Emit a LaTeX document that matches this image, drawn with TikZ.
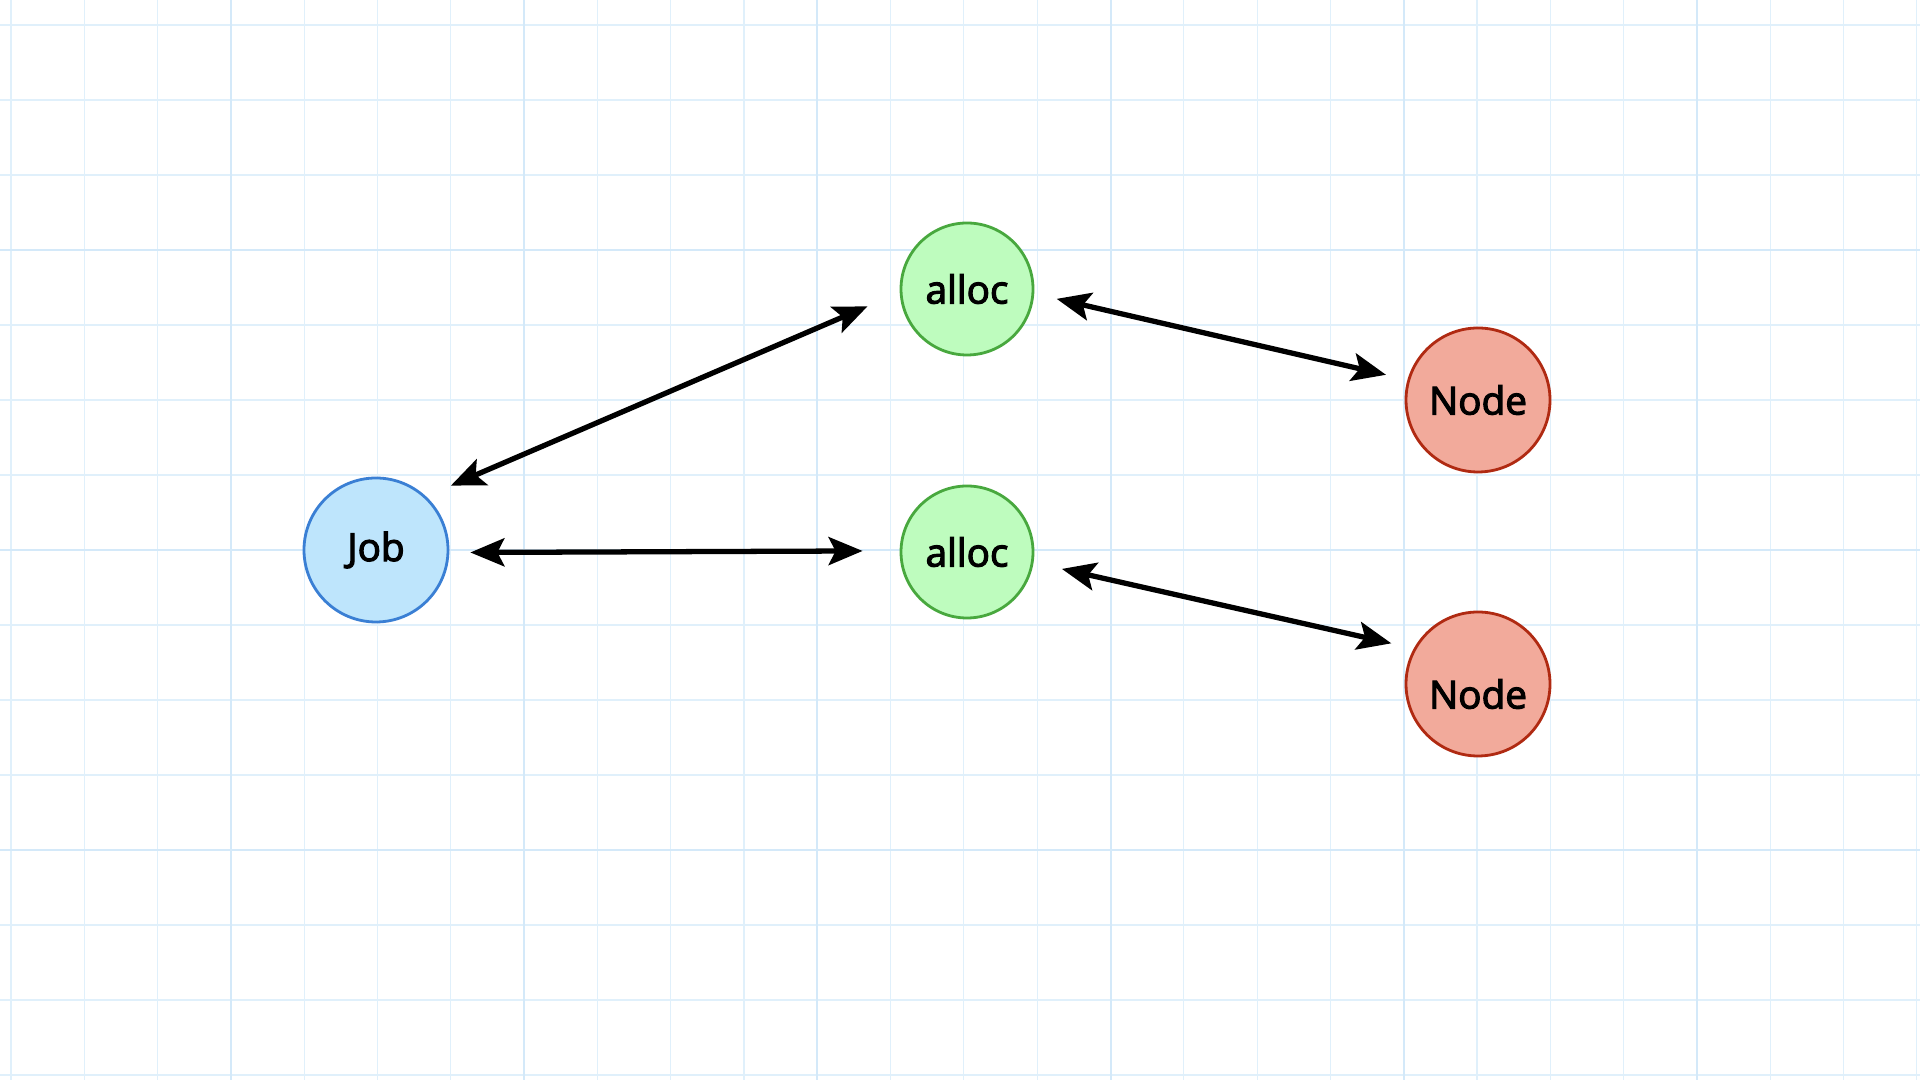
\documentclass[tikz,border=0pt]{standalone}
\usepackage{fontspec}
\setmainfont{Open Sans}
\newfontfamily\labelfont[FakeBold=3]{Open Sans}
\usepackage{tikz}
\usetikzlibrary{arrows.meta,positioning}
\definecolor{gridminor}{RGB}{224,240,251}
\definecolor{gridmajor}{RGB}{212,233,249}
\definecolor{jobfill}{RGB}{190,229,252}
\definecolor{jobdraw}{RGB}{58,127,212}
\definecolor{allocfill}{RGB}{190,252,190}
\definecolor{allocdraw}{RGB}{72,168,62}
\definecolor{nodefill}{RGB}{242,170,155}
\definecolor{nodedraw}{RGB}{176,42,18}

\begin{document}
\begin{tikzpicture}[
    every node/.style={font=\labelfont\fontsize{11pt}{13pt}\selectfont},
    jobball/.style={circle, inner sep=0pt, minimum size=1.44cm, line width=0.8pt, draw=jobdraw, fill=jobfill},
    allocball/.style={circle, inner sep=0pt, minimum size=1.32cm, line width=0.8pt, draw=allocdraw, fill=allocfill},
    nodeball/.style={circle, inner sep=0pt, minimum size=1.44cm, line width=0.8pt, draw=nodedraw, fill=nodefill},
    link/.style={line width=1.5pt, {Stealth[length=3.4mm,width=2.8mm,inset=0.7mm]}-{Stealth[length=3.4mm,width=2.8mm,inset=0.7mm]}}
]
    \useasboundingbox[fill=white] (0,0) rectangle (19.2,10.8);
    % background grid
    \begin{scope}[shift={(0.11,0.05)}]
        \draw[gridminor, line width=0.3pt, step={(0.733,0.75)}] (-0.11,-0.05) grid (19.09,10.75);
    \end{scope}
    \begin{scope}[shift={(2.31,2.3)}]
        \draw[gridmajor, line width=0.6pt, step={(2.932,3)}] (-2.31,-2.3) grid (16.89,8.5);
    \end{scope}

    \node[jobball] (job) at (3.76,5.30) {Job};

    \node[allocball] (alloc1) at (9.67,7.91) {alloc};
    \node[allocball] (alloc2) at (9.67,5.28) {alloc};

    \node[nodeball] (node1) at (14.78,6.80) {Node};
    \node[nodeball, label={[yshift=-1mm]center:Node}] (node2) at (14.78,3.96) {};

    \draw[link, shorten <=2.7mm, shorten >=3.5mm] (job.47.9) -- (alloc1.183.7);
    \draw[link, shorten <=2.1mm, shorten >=3.7mm] (job.-2.4) -- (alloc2.179);
    \draw[link, shorten <=2.3mm, shorten >=2.2mm] (alloc1.-4.2) -- (node1.164.7);
    \draw[link, shorten <=2.9mm, shorten >=2.3mm] (alloc2.-9.2) -- (node2.151.9);
\end{tikzpicture}
\end{document}
